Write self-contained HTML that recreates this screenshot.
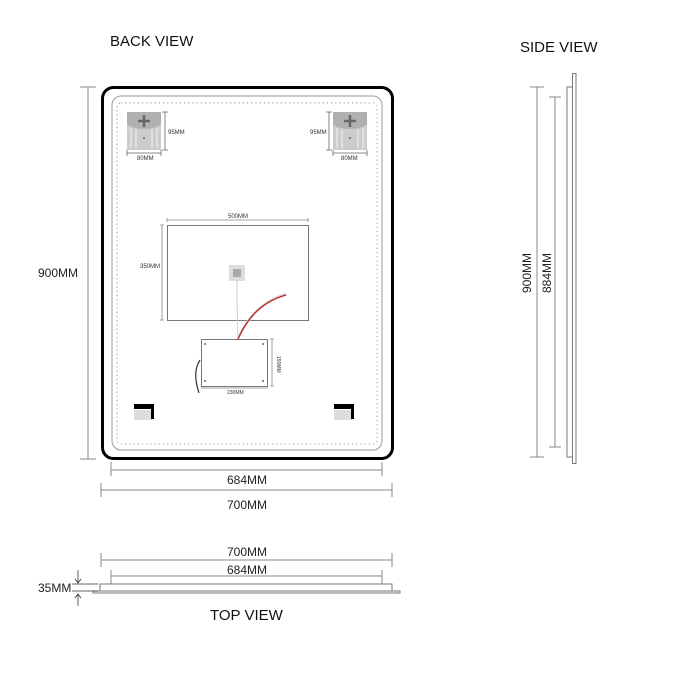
<!DOCTYPE html>
<html><head><meta charset="utf-8"><style>
html,body{margin:0;padding:0;background:#fff;}
svg{display:block;font-family:"Liberation Sans",sans-serif;}
</style></head><body>
<svg width="700" height="700" viewBox="0 0 700 700" xmlns="http://www.w3.org/2000/svg">
<rect width="700" height="700" fill="#fff"/>
<text x="110" y="46" font-size="15" fill="#111">BACK VIEW</text>
<text x="520" y="52" font-size="15" fill="#111">SIDE VIEW</text>
<text x="210" y="620" font-size="15" fill="#111">TOP VIEW</text>

<!-- back view frame -->
<rect x="102.5" y="87.5" width="290" height="371" rx="11" fill="none" stroke="#000" stroke-width="3"/>
<rect x="112" y="96" width="270" height="354" rx="9" fill="none" stroke="#999" stroke-width="1"/>
<rect x="117" y="103" width="260" height="341" rx="4" fill="none" stroke="#aaa" stroke-width="1.2" stroke-dasharray="1.2 3"/>

<!-- brackets -->
<g>
<rect x="127" y="112" width="34" height="38" fill="#ccc"/>
<path d="M127 112h34v13q-17 8-34 0z" fill="#b0b0b0"/>
<path d="M144 115v12M138 121h12" stroke="#666" stroke-width="2.5"/>
<circle cx="144" cy="138" r="1" fill="#666"/>
<path d="M131 128v20M136 130v18M152 130v18M157 128v20" stroke="#eee" stroke-width="1.2"/>
<path d="M165 112v38M162 112h6M162 150h6" stroke="#666" stroke-width="0.8"/>
<text x="168" y="134" font-size="6" fill="#333">95MM</text>
<path d="M127 153h34M127 150v6M161 150v6" stroke="#666" stroke-width="0.8"/>
<text x="137" y="160" font-size="6" fill="#333">80MM</text>
</g>
<g>
<rect x="333" y="112" width="34" height="38" fill="#ccc"/>
<path d="M333 112h34v13q-17 8-34 0z" fill="#b0b0b0"/>
<path d="M350 115v12M344 121h12" stroke="#666" stroke-width="2.5"/>
<circle cx="350" cy="138" r="1" fill="#666"/>
<path d="M337 128v20M342 130v18M358 130v18M363 128v20" stroke="#eee" stroke-width="1.2"/>
<path d="M329 112v38M326 112h6M326 150h6" stroke="#666" stroke-width="0.8"/>
<text x="310" y="134" font-size="6" fill="#333">95MM</text>
<path d="M333 153h34M333 150v6M367 150v6" stroke="#666" stroke-width="0.8"/>
<text x="341" y="160" font-size="6" fill="#333">80MM</text>
</g>

<!-- center rect -->
<path d="M167 220h141M167 218v4M308 218v4" stroke="#888" stroke-width="0.8"/>
<text x="228" y="218" font-size="6" fill="#333">500MM</text>
<rect x="167.5" y="225.5" width="141" height="95" fill="none" stroke="#777" stroke-width="1"/>
<path d="M162 225v95M160 225h4M160 320h4" stroke="#888" stroke-width="0.8"/>
<text x="140" y="268" font-size="6" fill="#333">350MM</text>
<rect x="229" y="265" width="16" height="16" fill="#ddd"/>
<rect x="233" y="269" width="8" height="8" fill="#aaa"/>
<path d="M237 281q0 30 1 58" stroke="#ccc" fill="none" stroke-width="1"/>
<path d="M238 339q15 -35 48 -45" stroke="#ddd" fill="none" stroke-width="2.5"/>
<path d="M238 339q15 -35 48 -44" stroke="#b22" fill="none" stroke-width="1.3"/>
<rect x="201.5" y="339.5" width="66" height="47" fill="none" stroke="#777" stroke-width="1"/>
<circle cx="205" cy="344" r="0.9" fill="#333"/><circle cx="263" cy="344" r="0.9" fill="#333"/>
<circle cx="205" cy="381" r="0.9" fill="#333"/><circle cx="263" cy="381" r="0.9" fill="#333"/>
<path d="M200 360q-8 12 -1 33" stroke="#333" fill="none" stroke-width="1.2"/>
<path d="M272 339v47M270 339h4M270 386h4M201 388h67" stroke="#888" stroke-width="0.8"/>
<text x="277" y="356" font-size="5" fill="#333" transform="rotate(90 277 356)">150MM</text>
<text x="227" y="394" font-size="5" fill="#333">230MM</text>

<!-- corner pieces -->
<rect x="134" y="410" width="18" height="10" fill="#ddd"/>
<path d="M134 404h20v15h-3v-10h-17z" fill="#000"/>
<rect x="334" y="410" width="18" height="10" fill="#ddd"/>
<path d="M334 404h20v15h-3v-10h-17z" fill="#000"/>

<!-- dimensions back view -->
<path d="M88 87v372M80 87h16M80 459h16" stroke="#888" stroke-width="1"/>
<text x="38" y="277" font-size="12" fill="#222">900MM</text>
<path d="M111 470h271M111 462v14M382 462v14" stroke="#888" stroke-width="1"/>
<text x="227" y="484" font-size="12" fill="#222">684MM</text>
<path d="M101 490h291M101 483v14M392 483v14" stroke="#888" stroke-width="1"/>
<text x="227" y="509" font-size="12" fill="#222">700MM</text>

<!-- side view -->
<rect x="572.5" y="73.5" width="3.5" height="390" fill="none" stroke="#777" stroke-width="1"/>
<rect x="567" y="87" width="5.5" height="370" fill="none" stroke="#777" stroke-width="1"/>
<path d="M537 87v370M530 87h14M530 457h14" stroke="#888" stroke-width="1"/>
<path d="M555 97v350M549 97h12M549 447h12" stroke="#888" stroke-width="1"/>
<text x="531" y="273" font-size="12" fill="#222" text-anchor="middle" transform="rotate(-90 531 273)">900MM</text>
<text x="551" y="273" font-size="12" fill="#222" text-anchor="middle" transform="rotate(-90 551 273)">884MM</text>

<!-- top view -->
<path d="M101 560h291M101 553v14M392 553v14" stroke="#888" stroke-width="1"/>
<text x="227" y="556" font-size="12" fill="#222">700MM</text>
<path d="M111 576h271M111 570v14M382 570v14" stroke="#888" stroke-width="1"/>
<text x="227" y="574" font-size="12" fill="#222">684MM</text>
<rect x="100" y="584" width="292" height="7" fill="none" stroke="#777" stroke-width="1"/>
<rect x="93" y="591" width="307" height="2" fill="none" stroke="#777" stroke-width="1"/>
<path d="M78 570v13M75 579l3 4 3-4M78 594v12M75 598l3-4 3 4M72 584h26M72 591h26" stroke="#333" stroke-width="0.8" fill="none"/>
<text x="38" y="592" font-size="12" fill="#222">35MM</text>
</svg>
</body></html>
